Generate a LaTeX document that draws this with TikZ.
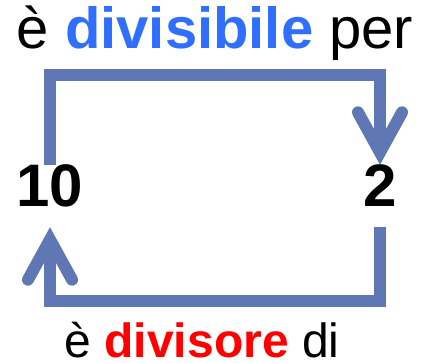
\documentclass[tikz,border=0pt]{standalone}
\usepackage{fontspec}
\setmainfont{Liberation Sans}
\usepackage{xcolor}
\usepackage{tikz}
\usetikzlibrary{arrows.meta}
\definecolor{loopblue}{HTML}{6077B6}
\definecolor{wordblue}{HTML}{2F6EFF}
\definecolor{wordred}{HTML}{FF0000}

\begin{document}
\begin{tikzpicture}[x=1pt, y=1pt,
    link/.style={draw=loopblue, line width=12pt, line join=miter,
                 -{Straight Barb[length=40pt, width=44pt, line cap=round, line join=miter]}},
    number/.style={anchor=base, inner sep=0pt, text height=41pt, text depth=21pt,
                   font=\fontsize{60}{64}\selectfont\bfseries},
    phrase/.style={anchor=base, inner sep=0pt}]

  \useasboundingbox (0,0) rectangle (425,362);

  % -- the two numbers -----------------------------------------------------
  \node[number] (n10) at (50,156) {10};
  \node[number] (n2)  at (380,156) {2};

  % -- the two sentences ---------------------------------------------------
  \node[phrase, font=\fontsize{58}{60}\selectfont] (above) at (215,313)
    {è \textcolor{wordblue}{\bfseries divisibile} per};
  \node[phrase, font=\fontsize{48}{52}\selectfont] (below) at (202,5)
    {è \textcolor{wordred}{\bfseries divisore} di};

  % -- the loop: over the top from 10 to 2, under the bottom from 2 to 10 --
  \coordinate (topline) at (215,287);
  \coordinate (botline) at (215,61);
  \draw[link] (n10.north) |- (topline) -| (n2.north);
  \draw[link] (n2.south) |- (botline) -| (n10.south);

\end{tikzpicture}
\end{document}
